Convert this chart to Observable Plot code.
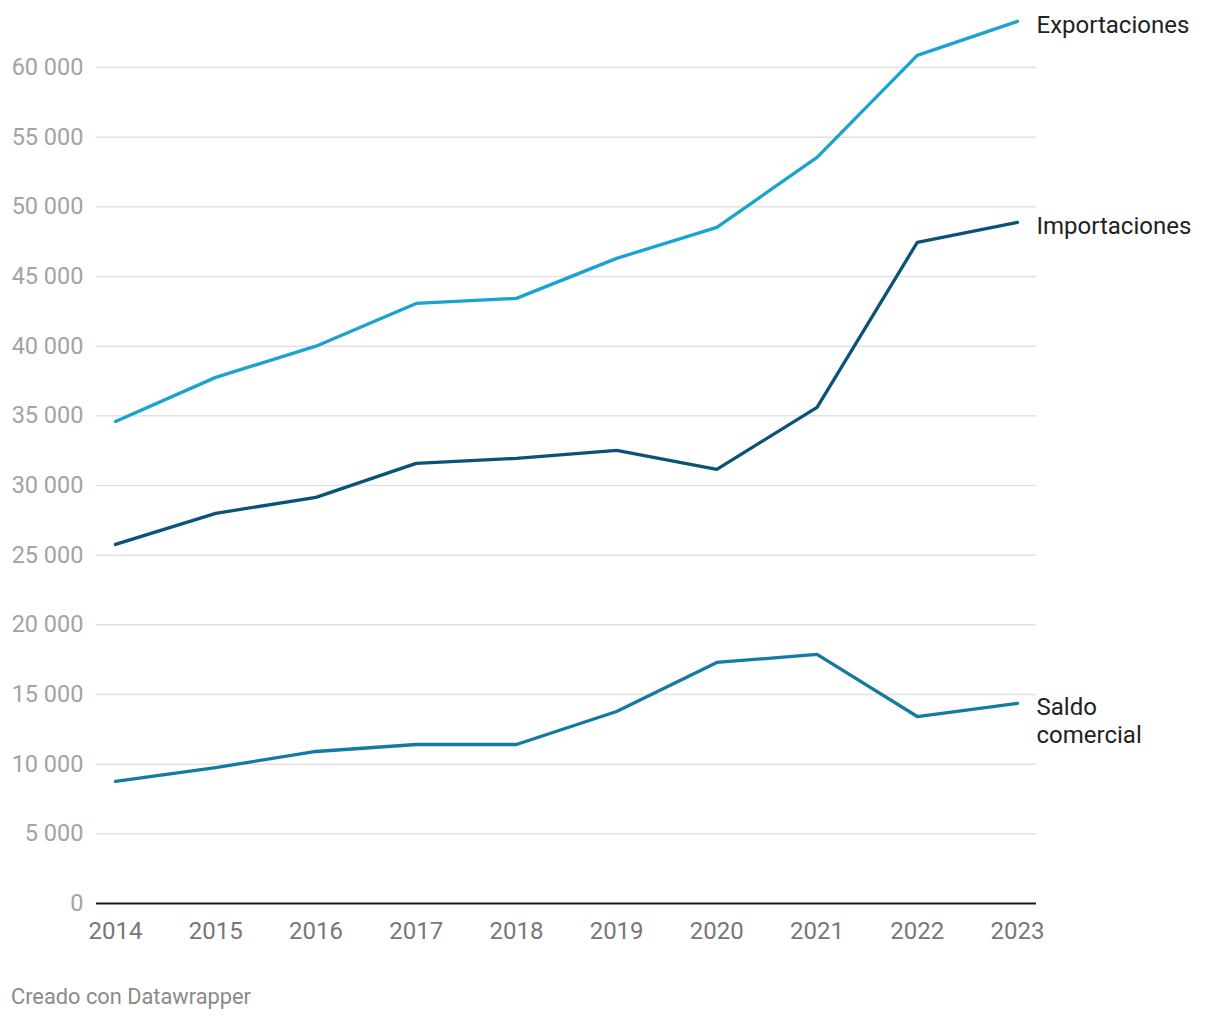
<!DOCTYPE html>
<html>
<head>
<meta charset="utf-8">
<script src="https://cdn.jsdelivr.net/npm/d3@7"></script>
<script src="https://cdn.jsdelivr.net/npm/@observablehq/plot@0.6"></script>
<style>
  body { margin: 0; background: #fff; font-family: Roboto, sans-serif; }
  #caption { font-family: Roboto, sans-serif; font-size: 21.8px; color: #8a8a8a; padding-left: 11px; padding-top: 25px; line-height: 24px; }
</style>
</head>
<body>
<div id="chart"></div>
<div id="caption">Creado con Datawrapper</div>
<script>
const years = [2014, 2015, 2016, 2017, 2018, 2019, 2020, 2021, 2022, 2023];
const exportaciones = [34600, 37760, 40000, 43070, 43430, 46300, 48530, 53550, 60870, 63310];
const importaciones = [25770, 28000, 29150, 31590, 31950, 32520, 31160, 35610, 47450, 48890];
const saldo = [8760, 9760, 10910, 11410, 11410, 13780, 17300, 17880, 13420, 14360];
const seriesNames = ["Exportaciones", "Importaciones", "Saldo comercial"];
const seriesLabels = ["Exportaciones", "Importaciones", "Saldo\ncomercial"];
const seriesColors = ["#1ba3cf", "#0a5378", "#137aa3"];
const yTicks = [0, 5000, 10000, 15000, 20000, 25000, 30000, 35000, 40000, 45000, 50000, 55000, 60000];

const seriesValues = [exportaciones, importaciones, saldo];
const data = [];
seriesNames.forEach((s, i) => years.forEach((yr, j) => data.push({serie: s, year: yr, value: seriesValues[i][j]})));
const ends = seriesNames.map((s, i) => ({serie: s, label: seriesLabels[i], year: years[years.length - 1], value: seriesValues[i][years.length - 1]}));

const fmt = v => d3.format(",")(v).replace(/,/g, " ");

const chart = Plot.plot({
  width: 1220,
  height: 960,
  marginLeft: 96,
  marginRight: 184,
  marginTop: 11.27,
  marginBottom: 57,
  style: {fontFamily: "Roboto, sans-serif", background: "#fff"},
  x: {domain: [2014, 2023], insetLeft: 19, insetRight: 19, label: null},
  y: {domain: [0, 64000], label: null},
  color: {domain: seriesNames, range: seriesColors},
  marks: [
    Plot.ruleY(yTicks.filter(d => d > 0), {stroke: "#e2e2e2", strokeWidth: 1.5}),
    Plot.axisY({ticks: yTicks, tickSize: 0, tickPadding: 13, tickFormat: fmt, fontSize: 23.5, fill: "#a3a3a3", label: null}),
    Plot.axisX({ticks: years, tickSize: 0, tickPadding: 18, tickFormat: d => String(d), fontSize: 24, fill: "#777777", label: null}),
    Plot.ruleY([0], {stroke: "#1a1a1a", strokeWidth: 2}),
    Plot.line(data, {x: "year", y: "value", z: "serie", stroke: "serie", strokeWidth: 3.3, strokeLinecap: "round", strokeLinejoin: "round"}),
    Plot.text(ends, {x: "year", y: "value", text: "label", textAnchor: "start", lineAnchor: "top", dx: 19, dy: -8, fontSize: 24, fill: "#222", lineHeight: 1.17})
  ]
});
document.getElementById("chart").appendChild(chart);
</script>
</body>
</html>
